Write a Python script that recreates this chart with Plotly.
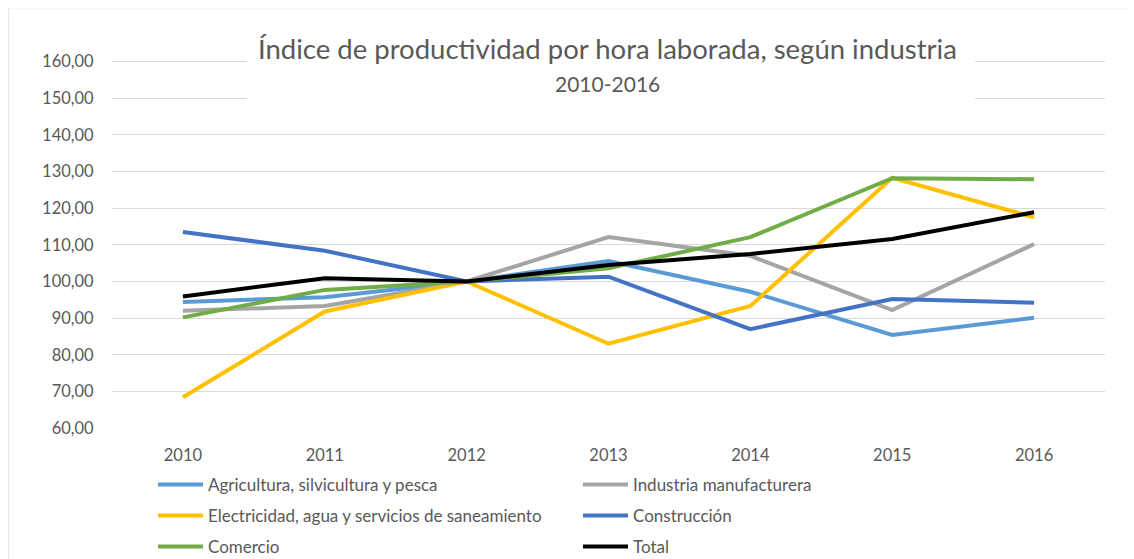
import plotly.graph_objects as go

years = ["2010", "2011", "2012", "2013", "2014", "2015", "2016"]

agricultura = [94.4, 95.7, 100.0, 105.6, 97.2, 85.4, 90.1]
industria = [92.0, 93.3, 100.0, 112.1, 107.0, 92.2, 110.2]
electricidad = [68.4, 91.8, 100.0, 83.0, 93.3, 128.3, 117.5]
construccion = [113.5, 108.4, 100.0, 101.3, 87.0, 95.2, 94.2]
comercio = [90.2, 97.7, 100.0, 103.6, 112.1, 128.2, 127.9]
total = [95.9, 100.9, 100.0, 104.5, 107.5, 111.6, 118.9]

series_names = [
    "Agricultura, silvicultura y pesca",
    "Industria manufacturera",
    "Electricidad, agua y servicios de saneamiento",
    "Construcción",
    "Comercio",
    "Total",
]
series_values = [agricultura, industria, electricidad, construccion, comercio, total]
colors = ["#5B9BD5", "#A5A5A5", "#FFC000", "#4472C4", "#70AD47", "#000000"]
legends = ["legend", "legend", "legend2", "legend2", "legend3", "legend3"]

FONT = "Lato"
TXT = "#595959"

OFF = 8  # page body margin
W, H = 1134 - OFF, 559 - OFF
PW = 993
PH = 370           # 101 units (60..161) at 3.66 px/unit
L = 112 - OFF
BOTTOM = 428 - OFF  # pixel row of value 60
T = BOTTOM - PH
R = W - L - PW
B = H - BOTTOM


def px(x):
    return (x - OFF - L) / PW


def py(y):
    return (BOTTOM - (y - OFF)) / PH


def cx(x):
    return (x - OFF) / W


def cy(y):
    return 1 - (y - OFF) / H


fig = go.Figure()
for name, vals, col, lg in zip(series_names, series_values, colors, legends):
    fig.add_trace(go.Scatter(
        x=years, y=vals, name=name, mode="lines",
        line=dict(color=col, width=4),
        legend=lg,
    ))

legend_common = dict(
    orientation="h", xanchor="left", yanchor="middle",
    xref="container", yref="container",
    x=cx(153), entrywidth=365, entrywidthmode="pixels",
    itemwidth=45, font=dict(family=FONT, size=17, color=TXT),
    bgcolor="rgba(0,0,0,0)", tracegroupgap=0, itemclick=False,
)

fig.update_layout(
    width=W, height=H,
    margin=dict(l=L, r=R, t=T, b=B, autoexpand=False),
    plot_bgcolor="white", paper_bgcolor="white",
    separators=",.",
    font=dict(family=FONT, color=TXT),
    xaxis=dict(
        type="category", range=[-0.5, 6.5], showgrid=False, zeroline=False,
        showline=False, ticks="outside", ticklen=12, tickcolor="rgba(0,0,0,0)",
        tickfont=dict(family=FONT, size=16.5, color=TXT),
    ),
    yaxis=dict(
        range=[60, 161], tick0=60, dtick=10, tickformat=".2f", showgrid=True,
        gridcolor="#D9D9D9", gridwidth=1.3, zeroline=False, showline=False,
        ticks="outside", ticklen=14, tickcolor="rgba(0,0,0,0)",
        tickfont=dict(family=FONT, size=16.5, color=TXT),
    ),
    legend=dict(legend_common, y=cy(485)),
    legend2=dict(legend_common, y=cy(516)),
    legend3=dict(legend_common, y=cy(547)),
    shapes=[
        dict(type="rect", xref="paper", yref="paper",
             x0=px(247), x1=px(975), y0=py(108), y1=py(30),
             fillcolor="white", line=dict(width=0), layer="above"),
        dict(type="rect", xref="paper", yref="paper",
             x0=px(8), x1=px(1145), y0=py(570), y1=py(7.5),
             fillcolor="rgba(0,0,0,0)", line=dict(color="#D9D9D9", width=1.3),
             layer="above"),
    ],
    annotations=[
        dict(text="Índice de productividad por hora laborada, según industria",
             xref="paper", yref="paper", x=px(607), y=py(48),
             xanchor="center", yanchor="middle", showarrow=False,
             font=dict(family=FONT, size=27.5, color=TXT)),
        dict(text="2010-2016",
             xref="paper", yref="paper", x=px(607), y=py(84),
             xanchor="center", yanchor="middle", showarrow=False,
             font=dict(family=FONT, size=21, color=TXT)),
    ],
)

fig.write_html("out.html")
